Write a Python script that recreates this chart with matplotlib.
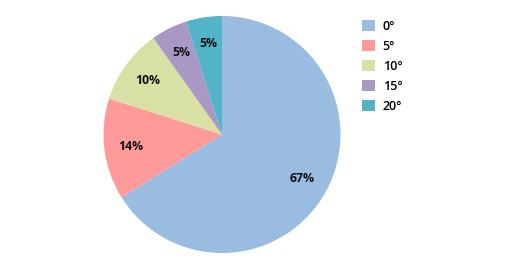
import matplotlib
matplotlib.use("Agg")
import matplotlib.pyplot as plt
from matplotlib.patches import Patch

categories = ["0°", "5°", "10°", "15°", "20°"]
values = [66.1, 13.8, 10.25, 4.95, 4.9]
pct_labels = ["67%", "14%", "10%", "5%", "5%"]
colors = ["#99bce0", "#ff9a9a", "#d8e1a3", "#a998c3", "#52b3c9"]

plt.rcParams['font.family'] = ['Open Sans', 'DejaVu Sans']

W, H = 518, 270
fig = plt.figure(figsize=(W / 100, H / 100), dpi=100)
cx, cy, r = 222, 134.5, 118.5
ax = fig.add_axes([(cx - r) / W, (H - cy - r) / H, 2 * r / W, 2 * r / H])
wedges, texts = ax.pie(
    values, colors=colors, startangle=90, counterclock=False,
    labels=pct_labels, labeldistance=0.775,
    textprops=dict(fontsize=8.8, fontweight='bold', color='#111111'),
    wedgeprops=dict(linewidth=0))
for t in texts:
    t.set_ha('center')
    t.set_va('center')
ax.set_aspect('equal')
ax.set_xlim(-1, 1)
ax.set_ylim(-1, 1)

handles = [Patch(facecolor=c, edgecolor='none') for c in colors]
fig.legend(handles, categories, loc='upper left', bbox_to_anchor=(362 / W, 1 - 19.5 / H),
           frameon=False, handlelength=1.05, handleheight=1.05,
           labelspacing=0.56, handletextpad=0.6, borderpad=0, borderaxespad=0,
           prop=dict(family=['Open Sans', 'DejaVu Sans'], weight='semibold', size=9))
fig.savefig("out.png", dpi=100)
